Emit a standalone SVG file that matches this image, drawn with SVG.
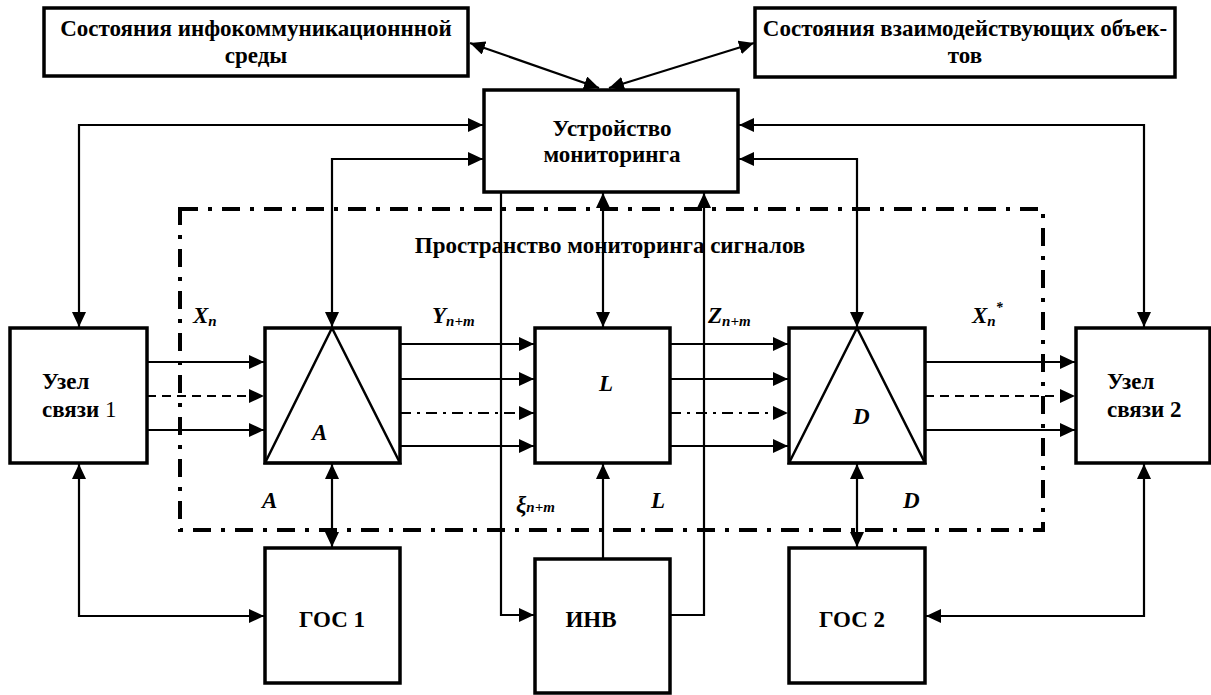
<svg xmlns="http://www.w3.org/2000/svg" width="1211" height="695" viewBox="0 0 1211 695">
<style>
.box{fill:#fff;stroke:#000;stroke-width:3.5}
.tri{fill:none;stroke:#000;stroke-width:2.5}
.c{fill:none;stroke:#000;stroke-width:2.2}
.dash{stroke-dasharray:9 6}
.dd{stroke-dasharray:11 6 3 6}
.frame{fill:none;stroke:#000;stroke-width:4;stroke-dasharray:18 10 4 10}
.t{font-family:"Liberation Serif","Times New Roman",serif;font-weight:bold;font-size:23px;fill:#000}
.m{text-anchor:middle}
.i{font-family:"Liberation Serif","Times New Roman",serif;font-weight:bold;font-style:italic;font-size:23px;fill:#000}
.sub{font-size:15px}
</style>
<defs>
<marker id="ah" markerUnits="userSpaceOnUse" markerWidth="16" markerHeight="14" refX="15" refY="7" orient="auto-start-reverse" viewBox="0 0 16 14">
<path d="M0,0 L15,7 L0,14 z" fill="#000"/>
</marker>
</defs>

<rect class="frame" x="180" y="209" width="863" height="321"/>
<text class="t m" x="610" y="253">Пространство мониторинга сигналов</text>

<g id="connectors">
<line class="c" x1="470" y1="43" x2="599" y2="88" marker-start="url(#ah)" marker-end="url(#ah)"/>
<line class="c" x1="609" y1="88" x2="754" y2="43" marker-start="url(#ah)" marker-end="url(#ah)"/>
<path class="c" d="M483,125 H79 V327" marker-start="url(#ah)" marker-end="url(#ah)"/>
<path class="c" d="M483,159 H332 V327" marker-start="url(#ah)" marker-end="url(#ah)"/>
<path class="c" d="M739,125 H1144 V327" marker-start="url(#ah)" marker-end="url(#ah)"/>
<path class="c" d="M739,159 H857 V327" marker-start="url(#ah)" marker-end="url(#ah)"/>
<path class="c" d="M603,193 V327" marker-start="url(#ah)" marker-end="url(#ah)"/>
<path class="c" d="M501,192 V615 H534" marker-end="url(#ah)"/>
<path class="c" d="M670,615 H704 V193" marker-end="url(#ah)"/>
<path class="c" d="M603,559 V464" marker-end="url(#ah)"/>
<path class="c" d="M332,464 V547" marker-start="url(#ah)" marker-end="url(#ah)"/>
<path class="c" d="M79,464 V616 H264" marker-start="url(#ah)" marker-end="url(#ah)"/>
<path class="c" d="M857,464 V547" marker-start="url(#ah)" marker-end="url(#ah)"/>
<path class="c" d="M1144,464 V616 H926" marker-start="url(#ah)" marker-end="url(#ah)"/>
<line class="c" x1="147" y1="362" x2="264" y2="362" marker-end="url(#ah)"/>
<line class="c dash" x1="147" y1="396" x2="264" y2="396" marker-end="url(#ah)"/>
<line class="c" x1="147" y1="430" x2="264" y2="430" marker-end="url(#ah)"/>
<line class="c" x1="400" y1="344" x2="534" y2="344" marker-end="url(#ah)"/>
<line class="c" x1="400" y1="379" x2="534" y2="379" marker-end="url(#ah)"/>
<line class="c dd" x1="400" y1="413" x2="534" y2="413" marker-end="url(#ah)"/>
<line class="c" x1="400" y1="446" x2="534" y2="446" marker-end="url(#ah)"/>
<line class="c" x1="670" y1="344" x2="788" y2="344" marker-end="url(#ah)"/>
<line class="c" x1="670" y1="379" x2="788" y2="379" marker-end="url(#ah)"/>
<line class="c dd" x1="670" y1="413" x2="788" y2="413" marker-end="url(#ah)"/>
<line class="c" x1="670" y1="446" x2="788" y2="446" marker-end="url(#ah)"/>
<line class="c" x1="925" y1="362" x2="1075" y2="362" marker-end="url(#ah)"/>
<line class="c dash" x1="925" y1="396" x2="1075" y2="396" marker-end="url(#ah)"/>
<line class="c" x1="925" y1="430" x2="1075" y2="430" marker-end="url(#ah)"/>
</g>

<g id="env">
<rect class="box" x="44" y="8" width="424" height="68"/>
<text class="t m" x="256" y="36">Состояния инфокоммуникационнной</text>
<text class="t m" x="256" y="63">среды</text>
</g>
<g id="objects">
<rect class="box" x="755" y="8" width="420" height="69"/>
<text class="t m" x="965" y="36">Состояния взаимодействующих объек-</text>
<text class="t m" x="965" y="63">тов</text>
</g>
<g id="monitor">
<rect class="box" x="484" y="90" width="254" height="102"/>
<text class="t m" x="612" y="136">Устройство</text>
<text class="t m" x="612" y="162">мониторинга</text>
</g>
<g id="node1">
<rect class="box" x="10" y="328" width="137" height="135"/>
<text class="t" x="42" y="389">Узел</text>
<text class="t" x="42" y="417">связи<tspan font-weight="normal"> 1</tspan></text>
</g>
<g id="blockA">
<rect class="box" x="265" y="328" width="135" height="135"/>
<polygon class="tri" points="265,463 332,328 400,463"/>
<text class="i" x="312" y="440">A</text>
</g>
<g id="blockL">
<rect class="box" x="535" y="328" width="135" height="135"/>
<text class="i" x="599" y="391">L</text>
</g>
<g id="blockD">
<rect class="box" x="789" y="328" width="136" height="135"/>
<polygon class="tri" points="789,463 857,328 925,463"/>
<text class="i" x="853" y="424">D</text>
</g>
<g id="node2">
<rect class="box" x="1076" y="328" width="134" height="135"/>
<text class="t" x="1107" y="389">Узел</text>
<text class="t" x="1107" y="417">связи 2</text>
</g>
<g id="gos1">
<rect class="box" x="265" y="548" width="135" height="135"/>
<text class="t m" x="332" y="627">ГОС 1</text>
</g>
<g id="inv">
<rect class="box" x="535" y="559" width="135" height="134"/>
<text class="t m" x="591" y="627">ИНВ</text>
</g>
<g id="gos2">
<rect class="box" x="789" y="548" width="136" height="135"/>
<text class="t m" x="852" y="627">ГОС 2</text>
</g>

<g id="labels">
<text class="i" x="193" y="323">X<tspan class="sub" dy="3">n</tspan></text>
<text class="i" x="432" y="323">Y<tspan class="sub" dy="3">n+m</tspan></text>
<text class="i" x="708" y="323">Z<tspan class="sub" dy="3">n+m</tspan></text>
<text class="i" x="972" y="323">X<tspan class="sub" dy="3">n</tspan><tspan font-size="14" dy="-14">*</tspan></text>
<text class="i" x="262" y="508">A</text>
<text class="i" x="516" y="512" font-size="20">ξ<tspan class="sub">n+m</tspan></text>
<text class="i" x="651" y="508">L</text>
<text class="i" x="903" y="508">D</text>
</g>
</svg>
